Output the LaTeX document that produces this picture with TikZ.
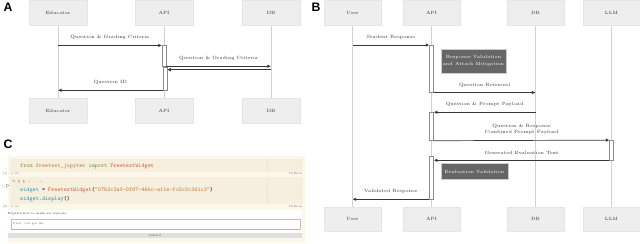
\documentclass[tikz,border=0pt]{standalone}
\usepackage{amssymb}
\usepackage{fontspec}
\usepackage{xcolor}
\usetikzlibrary{arrows.meta, positioning, calc}
\newfontfamily\panelfont{Liberation Sans}

\definecolor{boxgray}{RGB}{238,238,238}
\definecolor{lifegray}{RGB}{210,210,210}
\definecolor{msggray}{RGB}{55,55,55}
\definecolor{notegray}{RGB}{102,102,102}
\definecolor{nbbeige}{RGB}{252,247,235}
\definecolor{cellbeige}{RGB}{246,239,221}
\definecolor{kwgreen}{RGB}{110,145,25}
\definecolor{modorange}{RGB}{195,115,45}
\definecolor{clsred}{RGB}{205,85,50}
\definecolor{varteal}{RGB}{40,140,165}
\definecolor{inblue}{RGB}{150,190,230}

\newcommand{\seqfont}{\fontsize{3.9}{5.6}\selectfont}
\newcommand{\codefont}{\ttfamily\fontsize{5}{6}\selectfont}

\tikzset{
  actor/.style={draw=black!10, fill=boxgray, minimum width=1.74cm, minimum height=0.76cm,
    inner sep=0, font=\seqfont, text=black!80},
  lifeline/.style={lifegray, line width=0.4pt},
  actbar/.style={draw=black!45, fill=white, minimum width=0.12cm, inner sep=0, line width=0.4pt},
  msg/.style={msggray, line width=0.6pt, -{Latex[length=3pt,width=3pt]}},
  lbl/.style={font=\seqfont, text=black!80, inner sep=0.5pt, above=4pt, align=center},
  note/.style={fill=notegray, draw=black!20, text=white, font=\seqfont, align=center, inner sep=0},
  panel/.style={font=\panelfont\bfseries\fontsize{10.5}{12}\selectfont},
  nbtiny/.style={font=\fontsize{2.5}{3}\selectfont, text=black!60, inner sep=0}
}

\begin{document}
\begin{tikzpicture}[x=0.03cm, y=-0.03cm]
  \useasboundingbox (0,0) rectangle (640,243);

  % Panel labels
  \node[panel] (labA) at (8,7) {A};
  \node[panel] (labB) at (316,7) {B};
  \node[panel] (labC) at (8,144) {C};

  % ---------- Panel A ----------
  \node[actor] (eduT) at (58,13) {Educator};
  \node[actor] (apiT) at (164,13) {API};
  \node[actor] (dbT) at (271,13) {DB};
  \node[actor] (eduB) at (58,110.5) {Educator};
  \node[actor] (apiB) at (164,110.5) {API};
  \node[actor] (dbB) at (271,110.5) {DB};

  % Lifelines
  \draw[lifeline] (eduT.south) -- (eduB.north);
  \draw[lifeline] (apiT.south) -- (apiB.north);
  \draw[lifeline] (dbT.south) -- (dbB.north);

  % Activation bars
  \node[actbar, minimum height=0.61cm] (actA1) at (164,55.85) {};
  \node[actbar, minimum height=0.69cm] (actA2) at (165,78.5) {};

  % Messages
  \draw[msg] (eduT.south |- actA1.north) -- node[lbl] (m1) {Question \& Grading Criteria} (actA1.north west);
  \draw[msg] (actA1.south east) -- node[lbl] (m2) {Question \& Grading Criteria} (dbT.south |- actA1.south);
  \draw[msg] (dbT.south |- 0,69.7) -- (actA2.east |- 0,69.7);
  \draw[msg] (actA2.south west) -- node[lbl] (m3) {Question ID} (eduT.south |- actA2.south);

  % ---------- Panel B ----------
  \tikzset{actor/.append style={minimum width=1.71cm}}
  \node[actor] (userT) at (352.5,13) {User};
  \node[actor] (apiT2) at (431.5,13) {API};
  \node[actor] (dbT2) at (535.5,13) {DB};
  \node[actor] (llmT) at (611.5,13) {LLM};
  \node[actor, minimum height=0.72cm] (userB) at (352.5,219) {User};
  \node[actor, minimum height=0.72cm] (apiB2) at (431.5,219) {API};
  \node[actor, minimum height=0.72cm] (dbB2) at (535.5,219) {DB};
  \node[actor, minimum height=0.72cm] (llmB) at (611.5,219) {LLM};

  % Lifelines
  \draw[lifeline] (userT.south) -- (userB.north);
  \draw[lifeline] (apiT2.south) -- (apiB2.north);
  \draw[lifeline] (dbT2.south) -- (dbB2.north);
  \draw[lifeline] (llmT.south) -- (llmB.north);

  % Activation bars
  \node[actbar, minimum height=1.41cm] (actB1) at (431.5,68.8) {};
  \node[actbar, minimum height=0.84cm] (actB2) at (431.5,126.5) {};
  \node[actbar, minimum height=0.59cm] (actL) at (611.7,150.2) {};
  \node[actbar, minimum height=1.29cm] (actB3) at (431.5,177.5) {};

  % Notes
  \node[note, minimum width=1.95cm, minimum height=0.72cm] (noteVal) at (473.5,61)
    {Response Validation\\and Attack Mitigation};
  \node[note, minimum width=2.0cm, minimum height=0.47cm] (noteEval) at (474.5,171.5)
    {Evaluation Validation};

  % Messages
  \draw[msg] (userT.south |- actB1.north) -- node[lbl] (s1) {Student Response} (actB1.north west);
  \draw[msg] (actB1.south east) -- node[lbl] (s2) {Question Retrieval} (dbT2.south |- actB1.south);
  \draw[msg] (dbT2.south |- actB2.north) -- node[lbl] (s3) {Question \& Prompt Payload} (actB2.north east);
  \draw[msg] (actB2.south east) -- node[lbl] (s4) {Question \& Response\\Combined Prompt Payload} (actL.north west);
  \draw[msg] (actL.south west) -- node[lbl] (s5) {Generated Evaluation Text} (actB3.east |- actL.south);
  \draw[msg] (actB3.south west) -- node[lbl] (s6) {Validated Response} (userT.south |- actB3.south);

  % ---------- Panel C ----------
  \fill[nbbeige] (8,156) rectangle (305,243);
  % first cell
  \fill[cellbeige] (10,159) rectangle (303,172);
  \draw[black!12, densely dotted] (267,159) -- (267,172);
  \node[anchor=west, inner sep=0] (code1) at (20,166)
    {\codefont\textcolor{kwgreen}{from} \textcolor{modorange}{freetext\_jupyter} \textcolor{kwgreen}{import} \textcolor{clsred}{FreetextWidget}};
  \node[nbtiny, anchor=west] (run1) at (3,173.5) {[1]\quad$\checkmark$\ 0s};
  \node[nbtiny, anchor=east] (py1) at (302,173.5) {Python};
  % second cell
  \fill[cellbeige] (10,177) rectangle (303,204);
  \draw[black!12, densely dotted] (267,177) -- (267,204);
  \node[nbtiny, anchor=west] (tools) at (12,182) {\%\ \ \S\ \ \S\ \ \textbullet\ \ ...\ \ \textbullet};
  \node[nbtiny, anchor=west] (run2) at (2,186) {[\,]\,$\triangleright$};
  \node[anchor=west, inner sep=0] (code2) at (20,190.3)
    {\codefont\textcolor{varteal}{widget} = \textcolor{clsred}{FreetextWidget}(\textcolor{modorange}{"07b2c2ef-0f97-46bc-a11e-fc5c0c3d1c2"})};
  \node[anchor=west, inner sep=0] (code3) at (20,199.3)
    {\codefont\textcolor{varteal}{widget}.\textcolor{varteal}{display}()};
  \node[nbtiny, anchor=west] (run3) at (3,207) {[2]\quad$\checkmark$\ 0s};
  \node[nbtiny, anchor=east] (py2) at (302,207) {Python};
  % widget output
  \fill[white] (8,210) rectangle (302,232.5);
  \node[nbtiny, anchor=west, text=black!80] (quest) at (8,214) {Explain how to make an espresso.};
  \draw[black!25, fill=white] (11,219.3) rectangle (300,229.3);
  \draw[inblue, line width=0.6pt] (11,229.3) -- (300,229.3);
  \node[nbtiny, anchor=west] (answer) at (13,224) {First, you get the};
  \fill[black!12] (8,232.5) rectangle (302,237.5);
  \node[nbtiny, text=black!70] (submit) at (155,235) {Submit};
\end{tikzpicture}
\end{document}
